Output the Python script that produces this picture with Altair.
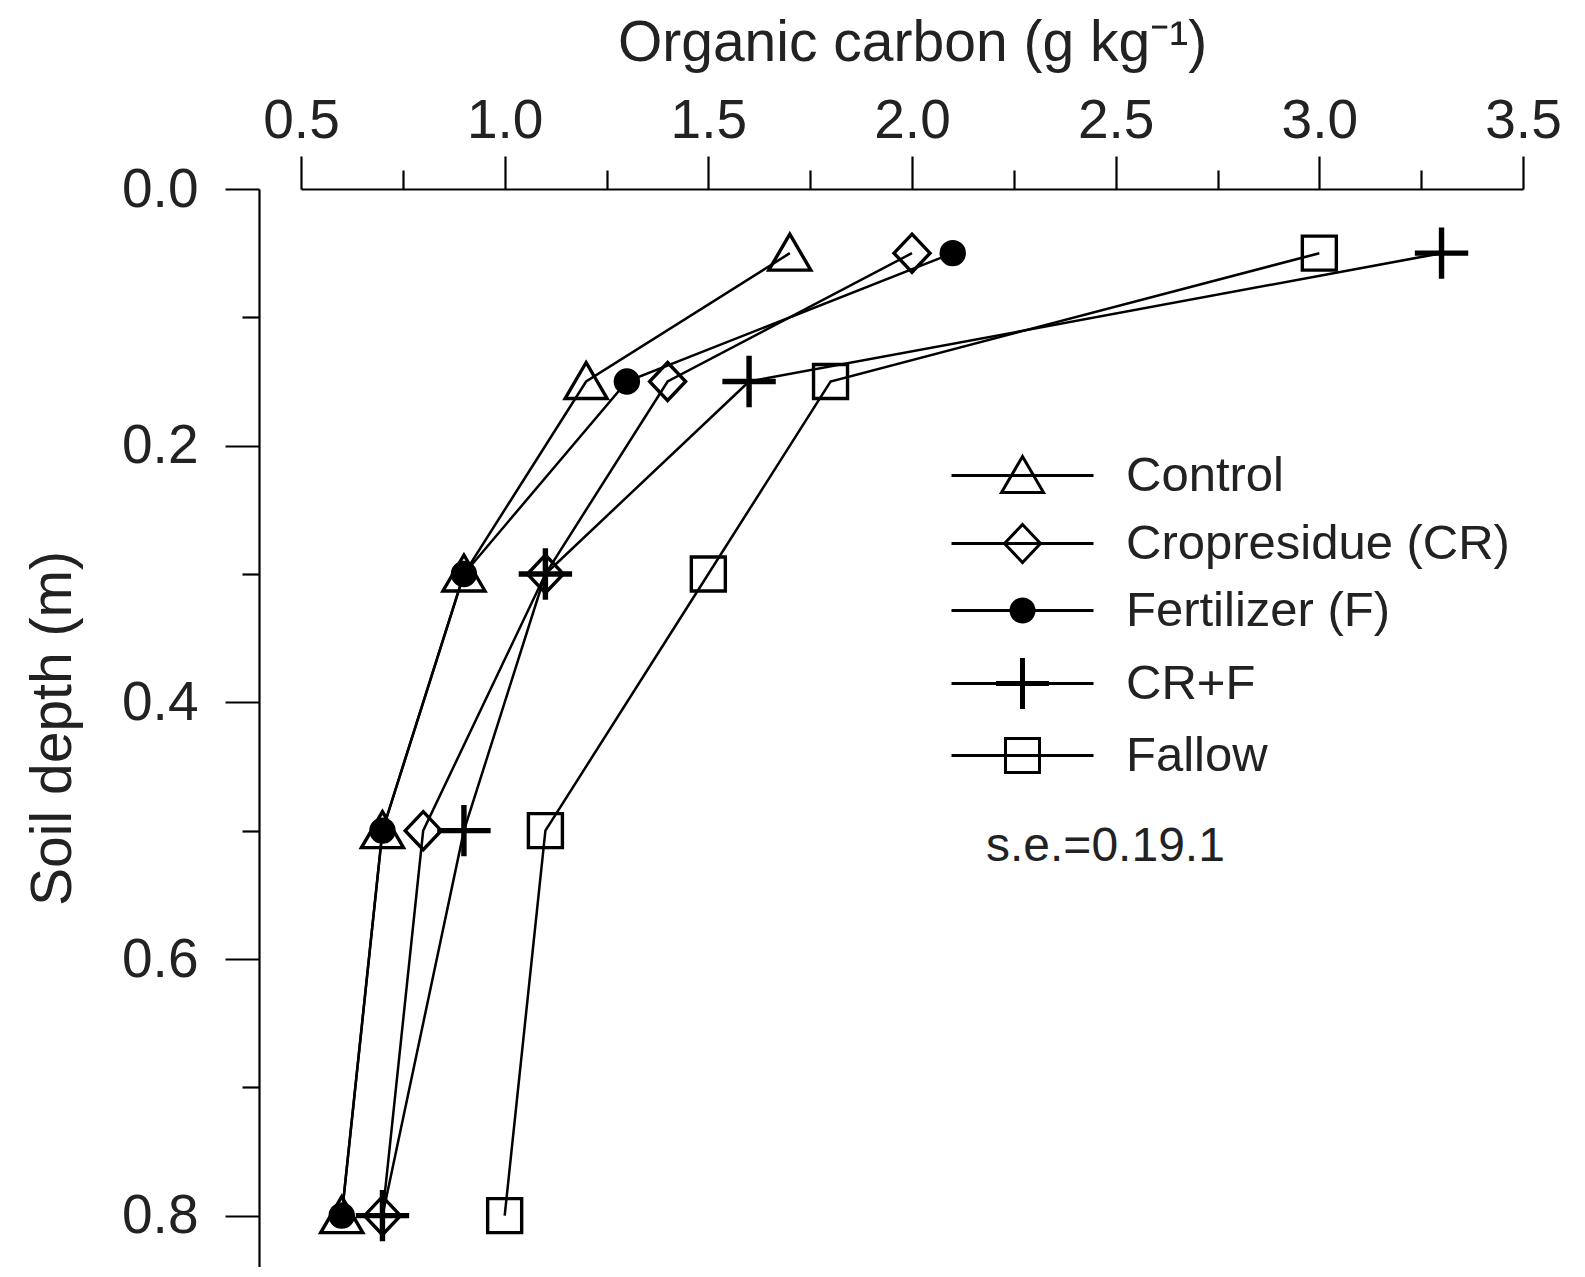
import altair as alt
import pandas as pd

# ---- data ----
depths = [0.05, 0.15, 0.3, 0.5, 0.8]
series_names = ["Control", "Cropresidue (CR)", "Fertilizer (F)", "CR+F", "Fallow"]
control = [1.7, 1.2, 0.9, 0.7, 0.6]
cropresidue = [2.0, 1.4, 1.1, 0.8, 0.7]
fertilizer = [2.1, 1.3, 0.9, 0.7, 0.6]
cr_f = [3.3, 1.6, 1.1, 0.9, 0.7]
fallow = [3.0, 1.8, 1.5, 1.1, 1.0]

x_ticks = [0.5, 1.0, 1.5, 2.0, 2.5, 3.0, 3.5]
x_minor = [0.75, 1.25, 1.75, 2.25, 2.75, 3.25]
y_ticks = [0.0, 0.2, 0.4, 0.6, 0.8]
y_minor = [0.1, 0.3, 0.5, 0.7]
se_text = ["s.e.=0.19.1"]

values = [control, cropresidue, fertilizer, cr_f, fallow]
rows = []
for name, vals in zip(series_names, values):
    for d, v in zip(depths, vals):
        rows.append({"series": name, "depth": d, "carbon": v})
df = pd.DataFrame(rows)

# ---- marker shapes (unit = sqrt(size)/2 px) ----
TRI = "M0,-1.9L2.1,1.7L-2.1,1.7Z"
DIA = "M0,-1.9L1.8,0L0,1.9L-1.8,0Z"
CIR = "M1.15,0A1.15,1.15,0,1,1,-1.15,0A1.15,1.15,0,1,1,1.15,0Z"
PLUS = ("M-2.5,-0.1L-0.1,-0.1L-0.1,-2.4L0.1,-2.4L0.1,-0.1L2.5,-0.1"
        "L2.5,0.1L0.1,0.1L0.1,2.4L-0.1,2.4L-0.1,0.1L-2.5,0.1Z")
SQ = "M-1.7,-1.7L1.7,-1.7L1.7,1.7L-1.7,1.7Z"
marker_paths = [TRI, DIA, CIR, PLUS, SQ]
LINE = "M-7.1,0L7.1,0"
legend_paths = [LINE + p for p in marker_paths]
fills = ["transparent", "transparent", "black", "black", "transparent"]
strokes = ["black"] * 5

FONT = "Liberation Sans"
TXT = "#222222"

x_scale = alt.Scale(domain=[0.5, 3.5], nice=False, zero=False)
y_scale = alt.Scale(domain=[0, 0.84], reverse=True, nice=False, zero=False)

lines = alt.Chart(df).mark_line(color="black", strokeWidth=2.5).encode(
    x=alt.X("carbon:Q", scale=x_scale,
            axis=alt.Axis(orient="top", values=x_ticks, format=".1f", tickSize=33,
                          labelPadding=7, labelFlush=False,
                          title="Organic carbon (g kg⁻¹)",
                          titleY=-129, titleBaseline="alphabetic")),
    y=alt.Y("depth:Q", scale=y_scale,
            axis=alt.Axis(orient="left", values=y_ticks, format=".1f", offset=42,
                          tickSize=34, labelPadding=27, labelFlush=False,
                          title="Soil depth (m)",
                          titleX=-189, titleAngle=270, titleBaseline="alphabetic")),
    detail="series:N",
    order=alt.Order("depth:Q"),
)

# one point layer per treatment, each with its own marker
point_layers = []
for i, (name, path, fcol) in enumerate(zip(series_names, marker_paths, fills)):
    if i == 0:
        xenc = alt.X("carbon:Q", scale=x_scale,
                     axis=alt.Axis(orient="top", values=x_minor, tickSize=19, labels=False,
                                   domain=False, title=None))
        yenc = alt.Y("depth:Q", scale=y_scale,
                     axis=alt.Axis(orient="left", values=y_minor, tickSize=17, labels=False,
                                   domain=False, offset=42, title=None))
    else:
        xenc = alt.X("carbon:Q", scale=x_scale, axis=None)
        yenc = alt.Y("depth:Q", scale=y_scale, axis=None)
    layer = alt.Chart(df).transform_filter(alt.datum.series == name).mark_point(
        shape=path, filled=(fcol == "black"), fill=fcol, stroke="black",
        strokeWidth=3.4, size=400, opacity=1
    ).encode(x=xenc, y=yenc)
    point_layers.append(layer)

leg = alt.Legend(title=None, orient="none", legendX=697, legendY=262,
                 labelFont=FONT, labelFontSize=49, labelColor=TXT, labelLimit=0,
                 labelOffset=79, rowPadding=17, symbolSize=400,
                 symbolStrokeColor="black", symbolStrokeWidth=3,
                 symbolOpacity=1, padding=0)

legend_layer = alt.Chart(df).transform_filter("false").mark_point(
    size=400, opacity=1, strokeWidth=3
).encode(
    x=alt.X("carbon:Q", scale=x_scale, axis=None),
    y=alt.Y("depth:Q", scale=y_scale, axis=None),
    shape=alt.Shape("series:N", scale=alt.Scale(domain=series_names, range=legend_paths), legend=leg),
    fill=alt.Fill("series:N", scale=alt.Scale(domain=series_names, range=fills), legend=leg),
    stroke=alt.Stroke("series:N", scale=alt.Scale(domain=series_names, range=strokes), legend=leg),
)

se = alt.Chart(pd.DataFrame({"label": se_text})).mark_text(
    align="left", baseline="middle", font=FONT, fontSize=48, color=TXT
).encode(text="label:N", x=alt.value(685), y=alt.value(658))

chart = alt.layer(lines, *point_layers, legend_layer, se).resolve_axis(
    x="independent", y="independent"
).properties(
    width=1222, height=1078,
    autosize=alt.AutoSizeParams(type="none"),
    padding={"left": 293, "top": 181, "right": 50, "bottom": 0},
).configure_axis(
    labelFont=FONT, titleFont=FONT, labelFontSize=55, titleFontSize=57,
    labelColor=TXT, titleColor=TXT, titleFontWeight="normal",
    domainColor="black", tickColor="black", domainWidth=2.2, tickWidth=2.2, grid=False,
).configure_view(stroke=None)

chart.save("out.html", embed_options={"renderer": "svg", "actions": False})
